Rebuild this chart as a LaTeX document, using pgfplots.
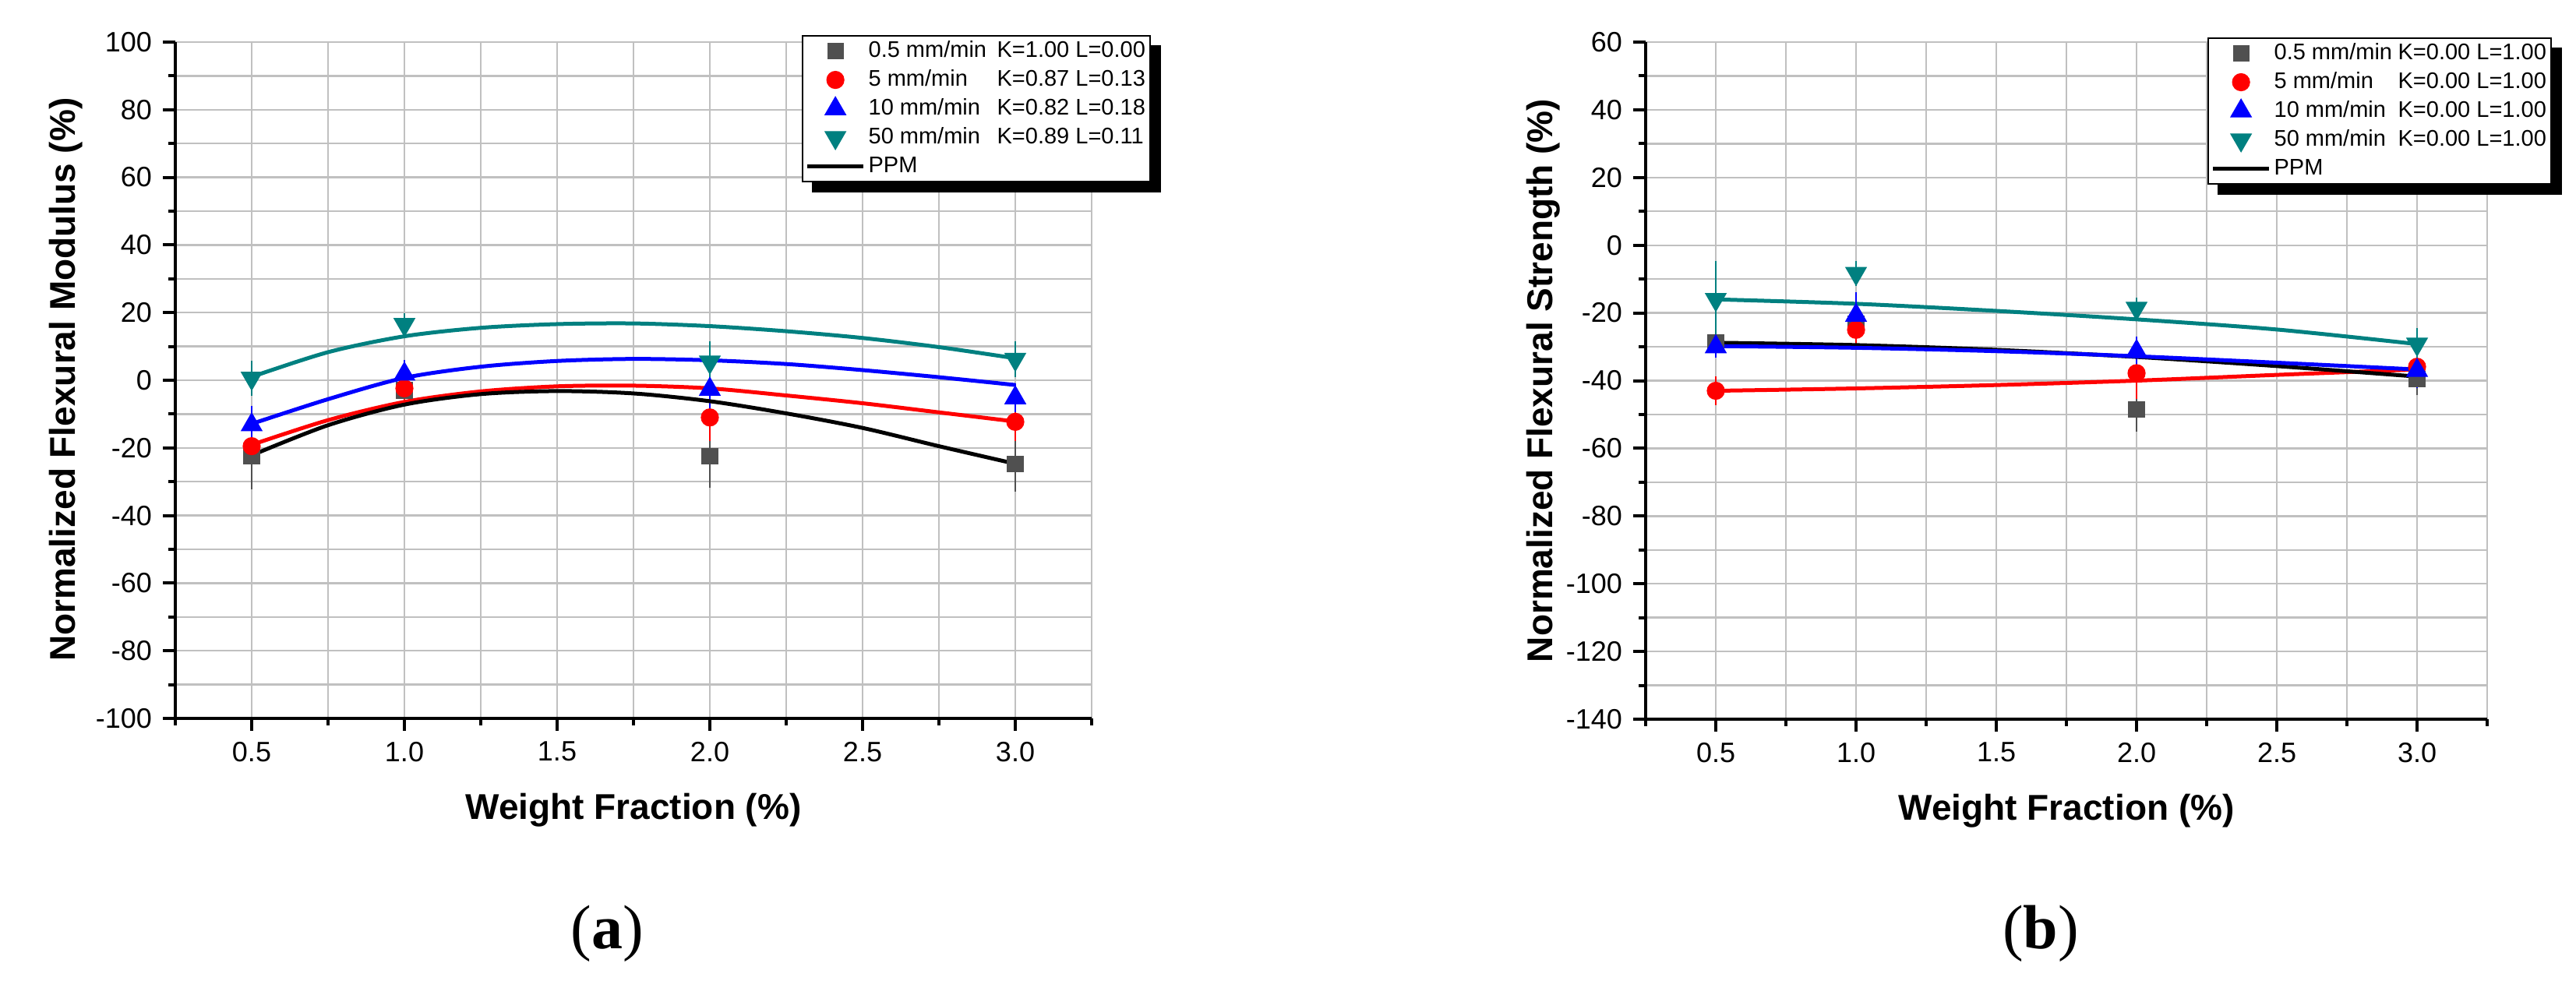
\documentclass[border=0pt]{standalone}
\usepackage{fontspec}
\setmainfont{Liberation Sans}
\newfontfamily\seriffont{Liberation Serif}
\usepackage{pgfplots}
\pgfplotsset{compat=1.18}
\definecolor{cgray}{RGB}{80,80,80}
\definecolor{cred}{RGB}{255,0,0}
\definecolor{cblue}{RGB}{0,0,255}
\definecolor{cteal}{RGB}{0,128,128}
\definecolor{cgrid}{RGB}{192,192,192}

\pgfplotsset{
  myaxis/.style={
    scale only axis, anchor=south west,
    height=217pt,
    xmin=0.25, xmax=3.25,
    xtick={0.5,1.0,1.5,2.0,2.5,3.0},
    minor xtick={0.25,0.75,1.25,1.75,2.25,2.75,3.25},
    xticklabel style={/pgf/number format/fixed, /pgf/number format/fixed zerofill, /pgf/number format/precision=1},
    axis x line*=bottom, axis y line*=left,
    axis line style={-, line width=1.2pt},
    tick align=outside,
    major tick length=4pt, minor tick length=2.2pt,
    tick style={black, line width=1pt},
    grid=both,
    major grid style={cgrid, line width=0.6pt},
    minor grid style={cgrid, line width=0.6pt},
    tick label style={font=\fontsize{9}{10}\selectfont},
    /pgf/number format/assume math mode=true,
    label style={font=\fontsize{11.5}{13}\selectfont\bfseries},
    legend cell align=left,
    legend image code/.code={\draw[mark repeat=2,mark phase=2,##1] plot coordinates {(0pt,0pt)(9pt,0pt)(18pt,0pt)};},
    legend style={anchor=north west, draw=black, line width=0.5pt, fill=white,
      font=\fontsize{7.25}{8}\selectfont, inner sep=0.9pt, row sep=1.25pt, column sep=0.5pt,
      nodes={inner sep=0.5pt, text height=5.5pt, text depth=1.5pt}},
  },
  fitline/.style={line width=1.25pt, smooth, forget plot, no marks},
  sgray/.style={only marks, color=cgray, mark=square*, mark size=2.5pt, mark options={line width=0.3pt},
    error bars/.cd, y dir=both, y explicit, error mark=-, error bar style={line width=0.5pt}, error mark options={line width=0.5pt, mark size=2.4pt}},
  sred/.style={only marks, color=cred, mark=*, mark size=2.75pt, mark options={line width=0.3pt},
    error bars/.cd, y dir=both, y explicit, error mark=-, error bar style={line width=0.5pt}, error mark options={line width=0.5pt, mark size=2.4pt}},
  sblue/.style={only marks, color=cblue, mark=triangle*, mark size=3.8pt, mark options={line width=0.3pt},
    error bars/.cd, y dir=both, y explicit, error mark=-, error bar style={line width=0.5pt}, error mark options={line width=0.5pt, mark size=2.4pt}},
  steal/.style={only marks, color=cteal, mark=triangle*, mark size=3.8pt, mark options={line width=0.3pt, rotate=180},
    error bars/.cd, y dir=both, y explicit, error mark=-, error bar style={line width=0.5pt}, error mark options={line width=0.5pt, mark size=2.4pt, rotate=0}},
}

\begin{document}
\begin{tikzpicture}
\useasboundingbox (0,0) rectangle (826.5pt,316.75pt);

% ---------------- panel (a) ----------------
\begin{axis}[myaxis, at={(56.25pt,86.25pt)}, width=294pt,
  ymin=-100, ymax=100,
  ytick={-100,-80,...,100},
  minor ytick={-90,-70,...,90},
  xlabel={Weight Fraction (\%)},
  ylabel={Normalized Flexural Modulus (\%)},
  xlabel style={at={(axis description cs:0.5,-0.136)}, anchor=center},
  ylabel style={at={(axis description cs:-0.119,0.501)}, anchor=center},
  legend style={at={(0.6837,1.0104)}, name=legA},
]
\addplot[fitline, cteal] coordinates {(0.5,1.0)(0.75,8.3)(1.0,13.0)(1.25,15.5)(1.5,16.6)(1.75,16.8)(2.0,16.0)(2.25,14.5)(2.5,12.5)(2.75,9.8)(3.0,6.5)};
\addplot[fitline, cblue] coordinates {(0.5,-12.9)(0.75,-5.6)(1.0,0.7)(1.25,4.0)(1.5,5.7)(1.75,6.3)(2.0,5.9)(2.25,4.8)(2.5,3.0)(2.75,0.9)(3.0,-1.4)};
\addplot[fitline, cred] coordinates {(0.5,-19.1)(0.75,-11.8)(1.0,-6.4)(1.25,-3.3)(1.5,-1.8)(1.75,-1.6)(2.0,-2.4)(2.25,-4.5)(2.5,-6.8)(2.75,-9.5)(3.0,-12.2)};

\addplot[sgray] table[x=x, y=y, y error=e] {
x y e
0.5 -22.4 7.7
1.0 -3.0 2.0
2.0 -22.5 7.0
3.0 -24.7 6.0
};
\addlegendentry{\makebox[41.25pt][l]{0.5 mm/min}K=1.00 L=0.00}
\addplot[sred] table[x=x, y=y, y error=e] {
x y e
0.5 -19.5 2.0
1.0 -2.4 2.5
2.0 -11.0 4.8
3.0 -12.3 3.5
};
\addlegendentry{\makebox[41.25pt][l]{5 mm/min}K=0.87 L=0.13}
\addplot[sblue] table[x=x, y=y, y error=e] {
x y e
0.5 -13.2 3.5
1.0 1.8 2.0
2.0 -2.7 4.0
3.0 -5.2 2.0
};
\addlegendentry{\makebox[41.25pt][l]{10 mm/min}K=0.82 L=0.18}
\addplot[steal] table[x=x, y=y, y error=e] {
x y e
0.5 0.6 3.0
1.0 16.5 1.0
2.0 5.4 4.0
3.0 6.2 3.0
};
\addlegendentry{\makebox[41.25pt][l]{50 mm/min}K=0.89 L=0.11}
\addplot[black, line width=1.25pt, smooth, no marks] coordinates {(0.5,-22.2)(0.75,-13.3)(1.0,-7.2)(1.25,-4.1)(1.5,-3.2)(1.75,-3.9)(2.0,-6.2)(2.25,-9.8)(2.5,-14.1)(2.75,-19.5)(3.0,-24.7)};
\addlegendentry{PPM}
\end{axis}

% ---------------- panel (b) ----------------
\begin{axis}[myaxis, at={(528pt,86pt)}, width=270pt, height=217.25pt,
  ymin=-140, ymax=60,
  ytick={-140,-120,...,60},
  minor ytick={-130,-110,...,50},
  xlabel={Weight Fraction (\%)},
  ylabel={Normalized Flexural Strength (\%)},
  xlabel style={at={(axis description cs:0.5,-0.135)}, anchor=center},
  ylabel style={at={(axis description cs:-0.122,0.5)}, anchor=center},
  legend style={at={(0.6676,1.007)}, name=legB},
]
\addplot[fitline, cteal] coordinates {(0.5,-16.0)(1.0,-17.3)(1.5,-19.4)(2.0,-21.9)(2.5,-24.9)(3.0,-29.2)};
\addplot[fitline, cred] coordinates {(0.5,-43.0)(1.0,-42.3)(1.5,-41.3)(2.0,-40.0)(2.5,-38.3)(3.0,-36.7)};

\addplot[sgray] table[x=x, y=y, y error=e] {
x y e
0.5 -28.8 2.0
1.0 -23.2 2.0
2.0 -48.6 4.3
3.0 -39.5 2.5
};
\addlegendentry{\makebox[39.75pt][l]{0.5 mm/min}K=0.00 L=1.00}
\addplot[sred] table[x=x, y=y, y error=e] {
x y e
0.5 -43.0 2.0
1.0 -25.0 3.0
2.0 -37.8 5.4
3.0 -35.9 3.5
};
\addlegendentry{\makebox[39.75pt][l]{5 mm/min}K=0.00 L=1.00}
\addplot[sblue] table[x=x, y=y, y error=e] {
x y e
0.5 -30.0 1.0
1.0 -20.7 4.5
2.0 -31.4 2.3
3.0 -37.0 3.0
};
\addlegendentry{\makebox[39.75pt][l]{10 mm/min}K=0.00 L=1.00}
\addplot[steal] table[x=x, y=y, y error=e] {
x y e
0.5 -16.0 9.2
1.0 -8.3 1.5
2.0 -18.6 1.0
3.0 -29.2 2.5
};
\addlegendentry{\makebox[39.75pt][l]{50 mm/min}K=0.00 L=1.00}
\addplot[black, line width=1.25pt, smooth, no marks] coordinates {(0.5,-28.8)(1.0,-29.5)(1.5,-30.9)(2.0,-33.0)(2.5,-35.7)(3.0,-38.8)};
\addlegendentry{PPM}
\addplot[fitline, cblue] coordinates {(0.5,-29.8)(1.0,-30.3)(1.5,-31.3)(2.0,-32.8)(2.5,-34.7)(3.0,-36.7)};
\end{axis}

% legend drop shadows (right and bottom strips)
\fill[black] ([yshift=-3.25pt]legA.north east) rectangle ([xshift=3.25pt,yshift=-3.25pt]legA.south east);
\fill[black] ([xshift=3.25pt]legA.south west) rectangle ([xshift=3.25pt,yshift=-3.25pt]legA.south east);
\fill[black] ([yshift=-3.25pt]legB.north east) rectangle ([xshift=3.25pt,yshift=-3.25pt]legB.south east);
\fill[black] ([xshift=3.25pt]legB.south west) rectangle ([xshift=3.25pt,yshift=-3.25pt]legB.south east);

\node[font=\seriffont\fontsize{20}{22}\selectfont] at (194.75pt,17.25pt) {(\textbf{a})};
\node[font=\seriffont\fontsize{20}{22}\selectfont] at (654.75pt,17.25pt) {(\textbf{b})};
\end{tikzpicture}
\end{document}
